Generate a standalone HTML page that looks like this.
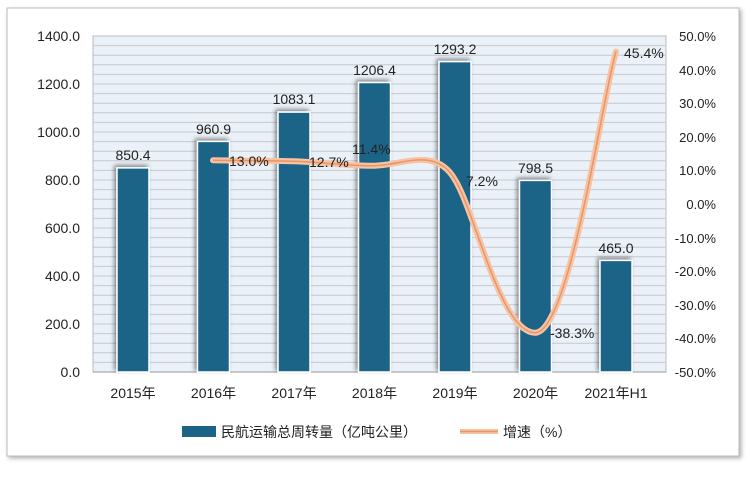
<!DOCTYPE html>
<html><head><meta charset="utf-8"><style>
body{margin:0;background:#fff;width:750px;height:474px;overflow:hidden}
svg text{font-family:"Liberation Sans","Noto Sans CJK SC",sans-serif;fill:#222}
</style></head><body>
<svg width="750" height="474" viewBox="0 0 750 474">
<defs>
<filter id="sh" x="-30%" y="-10%" width="160%" height="130%"><feDropShadow dx="-2" dy="-2" stdDeviation="2" flood-color="#000" flood-opacity="0.45"/></filter>
<filter id="fs" x="-5%" y="-5%" width="110%" height="110%"><feDropShadow dx="2" dy="2" stdDeviation="2" flood-color="#000" flood-opacity="0.3"/></filter>
</defs>
<rect x="7" y="8" width="732" height="448" fill="#fff" stroke="#bbb" filter="url(#fs)"/>
<rect x="93" y="36" width="573" height="336" fill="#eaf1f8" stroke="#bbb"/>
<g stroke="#c9ccd0" stroke-width="1">
<script>/* none */</script>
</g>
<g id="grid" stroke="#c6c9cc"></g>
<g stroke="#c6c9cc" stroke-width="1">
<line x1="93" x2="666" y1="45.6" y2="45.6"/><line x1="93" x2="666" y1="55.2" y2="55.2"/><line x1="93" x2="666" y1="64.8" y2="64.8"/><line x1="93" x2="666" y1="74.4" y2="74.4"/><line x1="93" x2="666" y1="84" y2="84"/><line x1="93" x2="666" y1="93.6" y2="93.6"/><line x1="93" x2="666" y1="103.2" y2="103.2"/><line x1="93" x2="666" y1="112.8" y2="112.8"/><line x1="93" x2="666" y1="122.4" y2="122.4"/><line x1="93" x2="666" y1="132" y2="132"/><line x1="93" x2="666" y1="141.6" y2="141.6"/><line x1="93" x2="666" y1="151.2" y2="151.2"/><line x1="93" x2="666" y1="160.8" y2="160.8"/><line x1="93" x2="666" y1="170.4" y2="170.4"/><line x1="93" x2="666" y1="180" y2="180"/><line x1="93" x2="666" y1="189.6" y2="189.6"/><line x1="93" x2="666" y1="199.2" y2="199.2"/><line x1="93" x2="666" y1="208.8" y2="208.8"/><line x1="93" x2="666" y1="218.4" y2="218.4"/><line x1="93" x2="666" y1="228" y2="228"/><line x1="93" x2="666" y1="237.6" y2="237.6"/><line x1="93" x2="666" y1="247.2" y2="247.2"/><line x1="93" x2="666" y1="256.8" y2="256.8"/><line x1="93" x2="666" y1="266.4" y2="266.4"/><line x1="93" x2="666" y1="276" y2="276"/><line x1="93" x2="666" y1="285.6" y2="285.6"/><line x1="93" x2="666" y1="295.2" y2="295.2"/><line x1="93" x2="666" y1="304.8" y2="304.8"/><line x1="93" x2="666" y1="314.4" y2="314.4"/><line x1="93" x2="666" y1="324" y2="324"/><line x1="93" x2="666" y1="333.6" y2="333.6"/><line x1="93" x2="666" y1="343.2" y2="343.2"/><line x1="93" x2="666" y1="352.8" y2="352.8"/><line x1="93" x2="666" y1="362.4" y2="362.4"/>
</g>
<line x1="93" x2="666" y1="372" y2="372" stroke="#999"/>
<g fill="#1b6488" stroke="#fff" stroke-width="1.5" filter="url(#sh)">
<rect x="117" y="167.9" width="32" height="204.1"/>
<rect x="197.5" y="141.4" width="32" height="230.6"/>
<rect x="278" y="112.1" width="32" height="259.9"/>
<rect x="358.5" y="82.5" width="32" height="289.5"/>
<rect x="439" y="61.6" width="32" height="310.4"/>
<rect x="519.5" y="180.4" width="32" height="191.6"/>
<rect x="600" y="260.4" width="32" height="111.6"/>
</g>
<g font-size="14" text-anchor="middle">
<text x="133" y="160">850.4</text><text x="213.5" y="134">960.9</text><text x="294" y="104">1083.1</text><text x="374.5" y="75">1206.4</text><text x="455" y="54">1293.2</text><text x="535.5" y="173">798.5</text><text x="616" y="253">465.0</text>
</g>
<path d="M213,160.3 C226.5,160.5 267,160.6 294,161.3 C321,162 347,166 374.5,165.7 C402,165.4 436,146 455,179.8 C476,214 501,334 535.5,332.7 C570,331 602,98 616,51.5" fill="none" stroke="#f7c3a2" stroke-width="6" stroke-linecap="round"/>
<path d="M213,160.3 C226.5,160.5 267,160.6 294,161.3 C321,162 347,166 374.5,165.7 C402,165.4 436,146 455,179.8 C476,214 501,334 535.5,332.7 C570,331 602,98 616,51.5" fill="none" stroke="#e8956a" stroke-width="1.5"/>
<g font-size="14">
<text x="229" y="166">13.0%</text><text x="309" y="167">12.7%</text><text x="352" y="154">11.4%</text><text x="466" y="186">7.2%</text><text x="550" y="338">-38.3%</text><text x="624" y="58">45.4%</text>
</g>
<g font-size="14" text-anchor="end">
<text x="80" y="41">1400.0</text><text x="80" y="89">1200.0</text><text x="80" y="137">1000.0</text><text x="80" y="185">800.0</text><text x="80" y="233">600.0</text><text x="80" y="281">400.0</text><text x="80" y="329">200.0</text><text x="80" y="377">0.0</text>
</g>
<g font-size="13" text-anchor="end">
<text x="716" y="41">50.0%</text><text x="716" y="75">40.0%</text><text x="716" y="108">30.0%</text><text x="716" y="142">20.0%</text><text x="716" y="175">10.0%</text><text x="716" y="209">0.0%</text><text x="716" y="243">-10.0%</text><text x="716" y="276">-20.0%</text><text x="716" y="310">-30.0%</text><text x="716" y="343">-40.0%</text><text x="716" y="377">-50.0%</text>
</g>
<g font-size="14" text-anchor="middle">
<text x="133" y="398">2015年</text><text x="213.5" y="398">2016年</text><text x="294" y="398">2017年</text><text x="374.5" y="398">2018年</text><text x="455" y="398">2019年</text><text x="535.5" y="398">2020年</text><text x="616" y="398">2021年H1</text>
</g>
<rect x="182" y="426" width="34" height="11" fill="#1b6488"/>
<text x="221" y="437" font-size="14">民航运输总周转量（亿吨公里）</text>
<line x1="460" x2="498" y1="431.5" y2="431.5" stroke="#f7c3a2" stroke-width="5"/>
<line x1="460" x2="498" y1="431.5" y2="431.5" stroke="#e8956a" stroke-width="1.5"/>
<text x="503" y="437" font-size="14">增速（%）</text>
</svg>
</body></html>
